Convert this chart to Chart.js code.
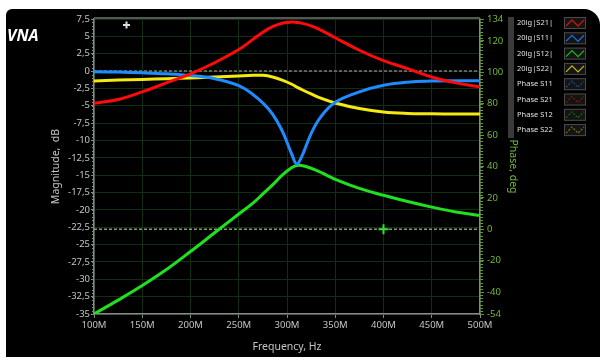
<!DOCTYPE html>
<html lang="en">
<head>
    <meta charset="UTF-8">
    <title>VNA</title>
    <script src="https://cdn.jsdelivr.net/npm/chart.js"></script>
    <style>
        body { margin: 0; background: #fff; }
        #panel { position: absolute; left: 6px; top: 9px; width: 594px; height: 348px; background: #000; border-radius: 6px 16px 0 0; overflow: hidden; }
    </style>
</head>
<body>

<div id="panel">
    <canvas id="vnaChart" width="594" height="348"></canvas>
</div>

<script>
    // frequency points, MHz
    const freqMHz = [100, 125, 150, 175, 200, 225, 250, 265, 275, 285, 295, 305, 310, 315, 325, 335, 350, 375, 400, 425, 450, 475, 500];

    // magnitudes, dB
    const s21Db = [-4.65, -4.1, -3.0, -1.7, -0.4, 1.2, 3.1, 4.6, 5.6, 6.4, 6.9, 7.05, 7.0, 6.9, 6.5, 5.9, 4.8, 3.0, 1.5, 0.35, -0.85, -1.7, -2.3];
    const s11Db = [-0.1, -0.15, -0.25, -0.4, -0.65, -1.1, -2.1, -3.4, -4.6, -6.2, -8.6, -12.0, -13.4, -12.4, -9.0, -6.6, -4.5, -3.0, -2.05, -1.6, -1.45, -1.4, -1.4];
    const s12Db = [-35, -33.0, -30.9, -28.6, -26.0, -23.3, -20.6, -19.0, -17.7, -16.4, -15.0, -13.9, -13.6, -13.6, -14.0, -14.6, -15.6, -16.9, -17.9, -18.8, -19.6, -20.3, -20.8];
    const s22Db = [-1.45, -1.3, -1.2, -1.1, -1.0, -0.85, -0.7, -0.62, -0.62, -0.85, -1.3, -1.9, -2.3, -2.65, -3.3, -3.9, -4.6, -5.4, -5.9, -6.1, -6.15, -6.2, -6.2];

    const phaseTicks = [-54, -40, -20, 0, 20, 40, 60, 80, 100, 120, 134];
    const markerFreq = 400;
    const legendNames = ['20lg|S21|', '20lg|S11|', '20lg|S12|', '20lg|S22|', 'Phase S11', 'Phase S21', 'Phase S12', 'Phase S22'];

    const pts = arr => freqMHz.map((f, i) => ({ x: f, y: arr[i] }));
    const flat = v => [{ x: freqMHz[0], y: v }, { x: freqMHz[freqMHz.length - 1], y: v }];

    const curve = (label, data, color) => ({
        label: label, data: data, borderColor: color, borderWidth: 3,
        pointRadius: 0, tension: 0.4, yAxisID: 'y', order: 1
    });

    // minor ticks, top border, legend box, title
    const extras = {
        id: 'extras',
        afterDraw(chart) {
            const ctx = chart.ctx;
            const a = chart.chartArea;
            const y = chart.scales.y, yp = chart.scales.yPhase;
            ctx.save();

            ctx.fillStyle = '#555';
            ctx.fillRect(a.left, a.top - 2, a.right - a.left, 2);

            ctx.strokeStyle = '#888';
            ctx.lineWidth = 1;
            ctx.beginPath();
            for (let v = -35; v <= 7.5; v += 0.5) {
                const py = Math.round(y.getPixelForValue(v)) + 0.5;
                ctx.moveTo(a.left - 2, py); ctx.lineTo(a.left, py);
            }
            ctx.stroke();

            ctx.strokeStyle = '#5a9a30';
            ctx.beginPath();
            for (let v = -54; v <= 134; v += 2) {
                const py = Math.round(yp.getPixelForValue(v)) + 0.5;
                ctx.moveTo(a.right, py); ctx.lineTo(a.right + 3, py);
            }
            ctx.stroke();

            // cursor glyph
            ctx.fillStyle = '#ddd';
            ctx.fillRect(117, 15, 7, 2);
            ctx.fillRect(119.5, 12.5, 2, 7);

            ctx.fillStyle = '#fff';
            ctx.font = 'bold italic 16px "Open Sans"';
            ctx.textBaseline = 'alphabetic';
            ctx.fillText('VNA', 1, 32);

            // legend
            ctx.fillStyle = '#3a3a3a';
            ctx.fillRect(502, 8, 6, 121);
            const lineCols = ['#d01010', '#1a6ad8', '#18b818', '#c8b800', '#1a4a9a', '#8a1010', '#126a12', '#7a7010'];
            ctx.font = '7.5px "Noto Sans"';
            ctx.textBaseline = 'middle';
            legendNames.forEach((name, i) => {
                const cy = 14 + i * 15.3;
                ctx.fillStyle = '#e0e0e0';
                ctx.fillText(name, 511, cy);
                ctx.fillStyle = '#141414';
                ctx.fillRect(558, cy - 6, 22, 12);
                ctx.strokeStyle = '#4a4a4a';
                ctx.lineWidth = 1;
                ctx.setLineDash([]);
                ctx.strokeRect(558.5, cy - 5.5, 21, 11);
                ctx.strokeStyle = lineCols[i];
                ctx.lineWidth = 1.3;
                if (i >= 4) ctx.setLineDash([2, 1.5]);
                ctx.beginPath();
                ctx.moveTo(560, cy + 3);
                ctx.lineTo(566, cy - 3);
                ctx.lineTo(572, cy + 3);
                ctx.lineTo(578, cy - 3);
                ctx.stroke();
            });
            ctx.restore();
        }
    };

    new Chart(document.getElementById('vnaChart'), {
        type: 'line',
        data: {
            datasets: [
                curve('20lg|S21|', pts(s21Db), '#ff0a0a'),
                curve('20lg|S11|', pts(s11Db), '#1e8cff'),
                curve('20lg|S12|', pts(s12Db), '#20e020'),
                curve('20lg|S22|', pts(s22Db), '#f4ea10'),
                {
                    label: 'ref 0 dB', data: flat(0), borderColor: '#7a7a7a', borderWidth: 1.5,
                    borderDash: [3, 2], pointRadius: 0, yAxisID: 'y', order: 5
                },
                {
                    label: 'ref 0 deg', data: flat(0), borderColor: '#8a9c70', borderWidth: 1.5,
                    borderDash: [3, 2], pointRadius: 0, yAxisID: 'yPhase', order: 5
                },
                {
                    label: 'marker', data: [{ x: markerFreq, y: 0 }], showLine: false,
                    pointStyle: 'cross', pointRadius: 5, borderColor: '#30e030', borderWidth: 2,
                    yAxisID: 'yPhase', order: 0
                }
            ]
        },
        options: {
            responsive: false,
            animation: false,
            devicePixelRatio: 1,
            layout: { padding: { left: 40, right: 77, top: 10, bottom: 0 } },
            plugins: { legend: { display: false }, tooltip: { enabled: false } },
            scales: {
                x: {
                    type: 'linear', min: 100, max: 500,
                    afterFit: s => { s.height = 43; },
                    ticks: {
                        stepSize: 50, color: '#c4c4c4', padding: 2, maxRotation: 0,
                        font: { family: 'Noto Sans', size: 9.5 },
                        callback: v => v + 'M'
                    },
                    grid: { color: '#0f2e12', tickColor: '#888', tickLength: 4 },
                    border: { color: '#888', width: 1.5 },
                    title: { display: true, text: 'Frequency, Hz', color: '#c4c4c4', font: { family: 'Noto Sans', size: 10.5 } }
                },
                y: {
                    position: 'left', min: -35, max: 7.5,
                    afterFit: s => { s.width = 48; },
                    ticks: {
                        stepSize: 2.5, autoSkip: false, color: '#c4c4c4', padding: 1,
                        font: { family: 'Noto Sans', size: 9.5 },
                        callback: v => String(v).replace('.', ',')
                    },
                    grid: { color: '#0f2e12', tickColor: '#888', tickLength: 3 },
                    border: { color: '#888', width: 1.5 },
                    title: { display: true, text: 'Magnitude,  dB', color: '#c4c4c4', font: { family: 'Noto Sans', size: 10.5 } }
                },
                yPhase: {
                    position: 'right', min: -54, max: 134,
                    afterFit: s => { s.width = 43; },
                    afterBuildTicks: s => { s.ticks = phaseTicks.map(v => ({ value: v })); },
                    ticks: {
                        autoSkip: false, color: '#72b83a', padding: 3,
                        font: { family: 'Noto Sans', size: 9.5 }
                    },
                    grid: { drawOnChartArea: false, tickColor: '#5a9a30', tickLength: 4 },
                    border: { color: '#888', width: 1.5 },
                    title: { display: true, text: 'Phase, deg', color: '#72b83a', font: { family: 'Noto Sans', size: 10.5 } }
                }
            }
        },
        plugins: [extras]
    });
</script>

</body>
</html>
